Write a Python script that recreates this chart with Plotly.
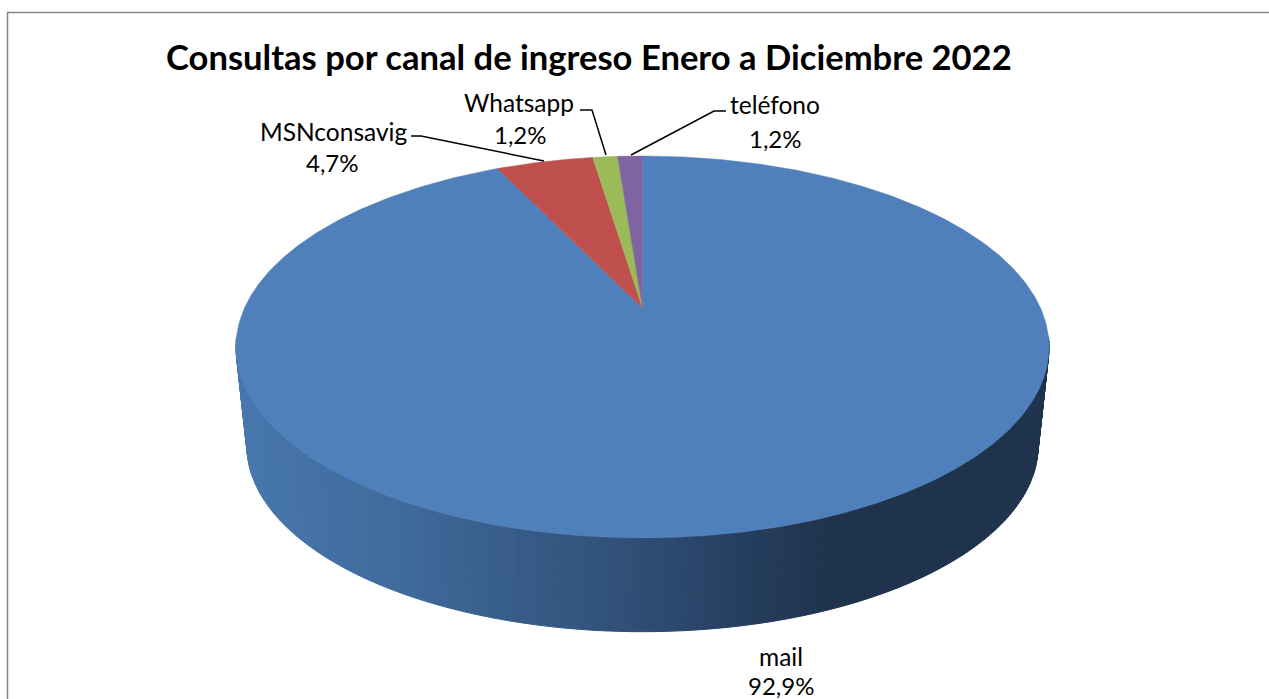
import numpy as np
import plotly.graph_objects as go

# ---- data ----
categories = ["mail", "MSNconsavig", "Whatsapp", "teléfono"]
values = [92.9, 4.7, 1.2, 1.2]
colors = ["#4f80bb", "#c0504d", "#9bbb59", "#8064a2"]
title = "Consultas por canal de ingreso Enero a Diciembre 2022"

# ---- projection of the pie disc (perspective view, page pixels) ----
CX, APEX_Y = 642.5, 308.0
A, B, K = 398.0, 183.0, 0.204
DEPTH_Y, DEPTH_S = 100.0, 0.973


def project(theta, scale=1.0, dy=0.0):
    d = 1 + K * np.cos(theta)
    return (CX + scale * A * np.sin(theta) / d,
            APEX_Y + dy - scale * B * np.cos(theta) / d)


# shading of the rim, by horizontal position
shade_x = [236, 400, 520, 640, 740, 830, 1050]
shade_rgb = [(72, 120, 174), (64, 107, 156), (56, 92, 136), (47, 78, 117),
             (38, 63, 96), (31, 51, 77), (31, 51, 77)]


def shade(x):
    return "rgb(%d,%d,%d)" % tuple(np.interp(x, shade_x, [c[i] for c in shade_rgb]) for i in range(3))


fig = go.Figure()

# rim: thin quads between top and bottom edge, following the mail slice's arc
ts = np.radians(np.linspace(99, 261, 163))
for t0, t1 in zip(ts[:-1], ts[1:]):
    tt = np.array([t0, t1])
    xt, yt = project(tt)
    xb, yb = project(tt, DEPTH_S, DEPTH_Y)
    col = shade((xt.mean() + xb.mean()) / 2)
    fig.add_trace(go.Scatter(
        x=[xt[0], xt[1], xb[1], xb[0], xt[0]], y=[yt[0], yt[1], yb[1], yb[0], yt[0]],
        mode="lines", fill="toself", fillcolor=col, line=dict(color=col, width=1),
        hoverinfo="skip", showlegend=False))

# top face: one wedge per category, sized by its value
total = sum(values)
start = 0.0
for name, val, col in zip(categories, values, colors):
    end = start + val / total * 2 * np.pi
    th = np.linspace(start, end, max(int(val * 8), 8))
    x, y = project(th)
    fig.add_trace(go.Scatter(
        x=np.r_[CX, x, CX], y=np.r_[APEX_Y, y, APEX_Y],
        mode="lines", fill="toself", fillcolor=col, line=dict(color=col, width=0.5),
        name=name, hoverinfo="name", showlegend=False))
    start = end

FONT = "Lato, Carlito, sans-serif"


def pct(v):
    return f"{v:.1f}%".replace(".", ",")


# label centres: (name x, name y, value x, value y)
label_pos = {
    "mail": (781, 656, 781, 685),
    "MSNconsavig": (333, 131, 332, 162),
    "Whatsapp": (519, 102, 520, 134),
    "teléfono": (775, 104, 775, 138),
}
annotations = [dict(x=589, y=56, text=f"<b>{title}</b>", showarrow=False,
                    font=dict(family=FONT, size=34.6, color="#000000"))]
for name, val in zip(categories, values):
    nx, ny, vx, vy = label_pos[name]
    annotations.append(dict(x=nx, y=ny, text=name, showarrow=False,
                            font=dict(family=FONT, size=24.5, color="#000000")))
    annotations.append(dict(x=vx, y=vy, text=pct(val), showarrow=False,
                            font=dict(family=FONT, size=24, color="#000000")))

leaders = [
    "M 411 136 L 421 136 L 544 161",
    "M 580 110 L 592 110 L 606 155",
    "M 726 111 L 714 111 L 631 155",
]
shapes = [dict(type="path", path=p, line=dict(color="#000000", width=1.5), xref="x", yref="y")
          for p in leaders]
shapes.append(dict(type="path", path="M 7.5 699 L 7.5 12.5 L 1269 12.5",
                   line=dict(color="#868686", width=1.5), xref="x", yref="y"))

fig.update_layout(
    width=1269, height=699, autosize=False,
    margin=dict(l=0, r=0, t=0, b=0),
    paper_bgcolor="#ffffff", plot_bgcolor="#ffffff",
    xaxis=dict(range=[0, 1269], visible=False, fixedrange=True),
    yaxis=dict(range=[699, 0], visible=False, fixedrange=True),
    annotations=annotations, shapes=shapes, showlegend=False,
)
fig.write_html("out.html", config=dict(displayModeBar=False),
               post_script="document.body.style.margin='0';document.documentElement.style.overflow='hidden';")
